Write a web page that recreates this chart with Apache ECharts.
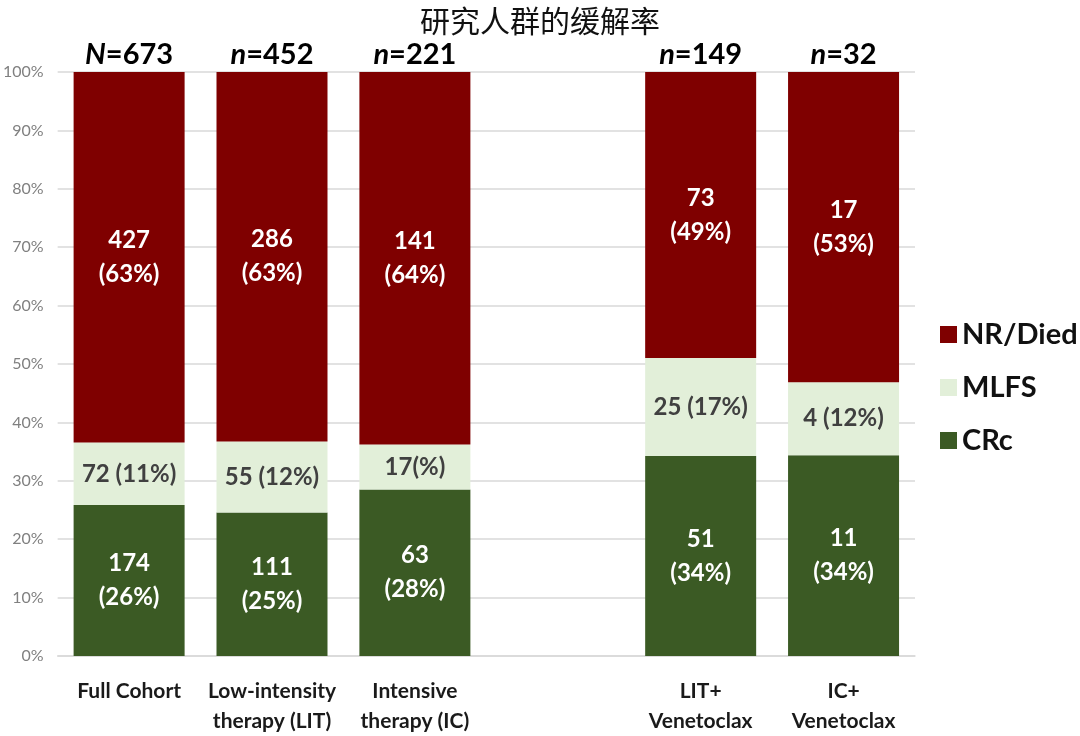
<!DOCTYPE html>
<html>
<head>
<meta charset="utf-8">
<script src="https://cdn.jsdelivr.net/npm/echarts@6/dist/echarts.min.js"></script>
<style>html,body{margin:0;padding:0;background:#fff;}#c{width:1080px;height:736px;}</style>
</head>
<body>
<div id="c"></div>
<script>
var categories = ['Full Cohort', 'Low-intensity\ntherapy (LIT)', 'Intensive\ntherapy (IC)', '', 'LIT+\nVenetoclax', 'IC+\nVenetoclax'];
var crcCounts  = [174, 111, 63, null, 51, 11];
var mlfsCounts = [72, 55, 17, null, 25, 4];
var nrCounts   = [427, 286, 141, null, 73, 17];
var nLetters   = ['N', 'n', 'n', '', 'n', 'n'];
var nTotals    = [673, 452, 221, null, 149, 32];
var crcLabels  = ['174\n(26%)', '111\n(25%)', '63\n(28%)', '', '51\n(34%)', '11\n(34%)'];
var mlfsLabels = ['72 (11%)', '55 (12%)', '17(%)', '', '25 (17%)', '4 (12%)'];
var nrLabels   = ['427\n(63%)', '286\n(63%)', '141\n(64%)', '', '73\n(49%)', '17\n(53%)'];
var yTicks     = [0, 10, 20, 30, 40, 50, 60, 70, 80, 90, 100];

function pct(arr) {
  return arr.map(function (v, i) {
    if (v == null) return null;
    var t = crcCounts[i] + mlfsCounts[i] + nrCounts[i];
    return v / t * 100;
  });
}

var FONT = 'Lato';
var chart = echarts.init(document.getElementById('c'));
function lbl(arr, color) {
  return {
    show: true, position: 'inside', color: color, fontFamily: FONT, fontWeight: 'bold',
    fontSize: 24, lineHeight: 34,
    formatter: function (p) { return arr[p.dataIndex]; }
  };
}
chart.setOption({
  animation: false,
  title: {
    text: '研究人群的缓解率', left: 'center', top: 1,
    textStyle: { fontFamily: 'Noto Sans CJK SC', fontWeight: 'normal', fontSize: 30, color: '#111' }
  },
  legend: {
    data: ['NR/Died', 'MLFS', 'CRc'], orient: 'vertical', left: 935, top: 315,
    itemWidth: 17, itemHeight: 17, itemGap: 24, icon: 'rect',
    textStyle: { fontFamily: FONT, fontWeight: 'bold', fontSize: 29, color: '#111' }
  },
  grid: { left: 55, right: 165, top: 72, bottom: 80 },
  xAxis: {
    type: 'category', data: categories,
    axisLine: { show: true, lineStyle: { color: '#d9d9d9', width: 1.5 } },
    axisTick: { show: false },
    axisLabel: { interval: 0, margin: 20, fontFamily: FONT, fontWeight: 'bold', fontSize: 21, lineHeight: 30, color: '#1a1a1a' }
  },
  yAxis: {
    type: 'value', min: yTicks[0], max: yTicks[yTicks.length - 1], interval: 10,
    axisLine: { show: false }, axisTick: { show: false },
    axisLabel: { formatter: '{value}%', fontFamily: FONT, fontSize: 16, color: '#808080', margin: 14 },
    splitLine: { lineStyle: { color: '#d9d9d9', width: 1.5 } }
  },
  series: [
    { name: 'CRc', type: 'bar', stack: 's', barWidth: 111, data: pct(crcCounts),
      itemStyle: { color: '#3b5a24' }, label: lbl(crcLabels, '#ffffff') },
    { name: 'MLFS', type: 'bar', stack: 's', barWidth: 111, data: pct(mlfsCounts),
      itemStyle: { color: '#e2efd9' }, label: lbl(mlfsLabels, '#404040') },
    { name: 'NR/Died', type: 'bar', stack: 's', barWidth: 111, data: pct(nrCounts),
      itemStyle: { color: '#7f0000' }, label: lbl(nrLabels, '#ffffff') },
    { name: 'n', type: 'scatter', symbolSize: 0, silent: true,
      itemStyle: { opacity: 1, color: '#000' },
      data: nTotals.map(function (v) { return v == null ? null : 100; }),
      label: {
        show: true, position: 'top', distance: 3, color: '#000',
        formatter: function (p) { return '{i|' + nLetters[p.dataIndex] + '}{b|=' + nTotals[p.dataIndex] + '}'; },
        rich: {
          i: { fontFamily: FONT, fontWeight: 'bold', fontStyle: 'italic', fontSize: 29, color: '#000' },
          b: { fontFamily: FONT, fontWeight: 'bold', fontSize: 29, color: '#000' }
        }
      }
    }
  ]
});
</script>
</body>
</html>
